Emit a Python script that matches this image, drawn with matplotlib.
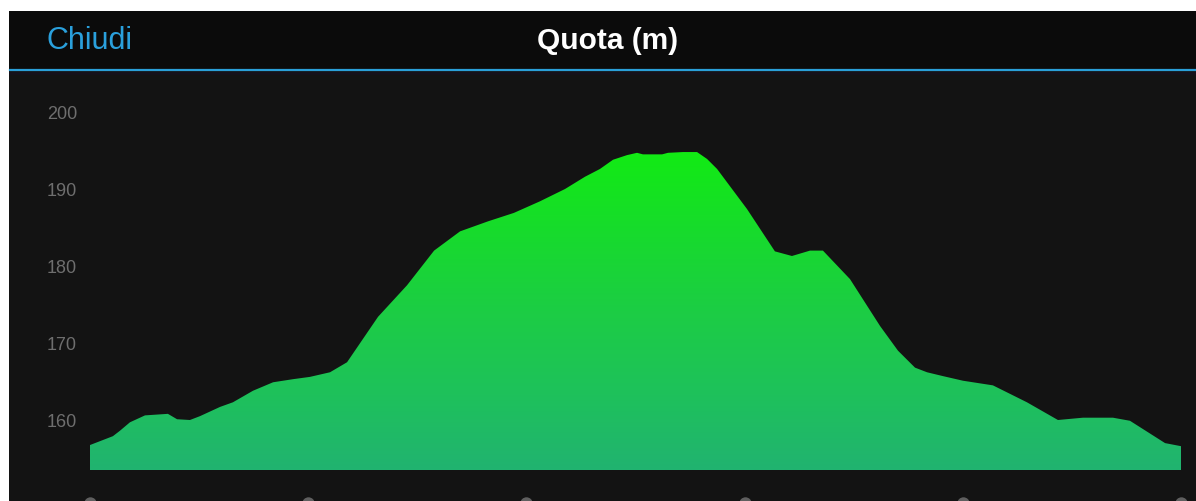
import numpy as np
import matplotlib

matplotlib.use("Agg")
import matplotlib.pyplot as plt  # noqa: E402
from matplotlib.colors import LinearSegmentedColormap  # noqa: E402
from matplotlib.patches import Polygon  # noqa: E402

# elevation profile (distance in tick units, altitude m)
distance = [
    0.000, 0.105, 0.137, 0.183, 0.252, 0.357, 0.399, 0.458, 0.504, 0.596,
    0.655, 0.747, 0.839, 0.930, 1.008, 1.100, 1.178, 1.320, 1.453, 1.577,
    1.696, 1.824, 1.943, 2.062, 2.177, 2.269, 2.337, 2.397, 2.461, 2.507,
    2.534, 2.622, 2.649, 2.718, 2.782, 2.828, 2.874, 3.011, 3.139, 3.217,
    3.300, 3.359, 3.483, 3.621, 3.703, 3.781, 3.836, 3.909, 4.001, 4.138,
    4.294, 4.436, 4.551, 4.688, 4.766, 4.927, 5.000,
]
altitude = [
    156.75, 157.9, 158.6, 159.7, 160.6, 160.8, 160.1, 160.0, 160.5, 161.7,
    162.3, 163.8, 164.9, 165.3, 165.6, 166.2, 167.5, 173.4, 177.5, 182.0,
    184.5, 185.8, 186.9, 188.4, 190.0, 191.6, 192.6, 193.8, 194.4, 194.7,
    194.5, 194.5, 194.7, 194.8, 194.8, 193.9, 192.6, 187.4, 181.9, 181.3,
    182.0, 182.0, 178.3, 172.2, 169.0, 166.8, 166.2, 165.7, 165.1, 164.5,
    162.3, 160.0, 160.3, 160.3, 159.9, 157.0, 156.6,
]
base_alt = 153.5
y_ticks = [160, 170, 180, 190, 200]
x_ticks = [0, 1, 2, 3, 4, 5]

title = "Quota (m)"
close_label = "Chiudi"

W, H = 1196, 502
fig = plt.figure(figsize=(W / 100, H / 100), dpi=100, facecolor="white")

# dark app background (white margin top/left like the screenshot)
bg = fig.add_axes([9 / W, 0, 1 - 9 / W, 1 - 12 / H])
bg.set_axis_off()
bg.set_xlim(0, 1)
bg.set_ylim(0, 1)
bg.add_patch(plt.Rectangle((0, 0), 1, 1, color="#131313", transform=bg.transAxes))
hdr_h = (70 - 12) / (H - 12)
bg.add_patch(plt.Rectangle((0, 1 - hdr_h), 1, hdr_h, color="#0b0b0b", transform=bg.transAxes))

# header texts and blue separator
fig.text(46 / W, 1 - 41 / H, close_label, color="#2aa0dc", fontsize=22,
         family="Liberation Sans", ha="left", va="center")
fig.text(608 / W, 1 - 41 / H, title, color="white", fontsize=21.5, fontweight="bold",
         family="Liberation Sans", ha="center", va="center")
fig.add_artist(plt.Line2D([9.5 / W, 1], [1 - 70.5 / H, 1 - 70.5 / H], color="#2a9fd8", lw=1.6))
fig.add_artist(plt.Line2D([9.5 / W, 1], [1 - 74 / H, 1 - 74 / H], color="#15111b", lw=2.0))

# plot axes: px 90 -> 0, px 1181 -> 5 ; 160 m at y=421 px, 7.7 px per m
px_per_x = (1181 - 90) / 5
px_per_m = 7.7
ax_top = 76
ax = fig.add_axes([9 / W, 0, 1 - 9 / W, 1 - ax_top / H])
ax.set_facecolor("none")
ax.set_xlim((9 - 90) / px_per_x, (W - 90) / px_per_x)
ax.set_ylim(160 - (H - 421) / px_per_m, 160 + (421 - ax_top) / px_per_m)
ax.set_axis_off()

# gradient fill under the profile
cmap = LinearSegmentedColormap.from_list(
    "quota", ["#21b370", "#1ec25a", "#1ccd44", "#17db2c", "#12eb14"], N=256)
grad = np.linspace(0, 1, 256).reshape(-1, 1)
top_alt = max(altitude)
img = ax.imshow(grad, cmap=cmap, origin="lower", aspect="auto",
                extent=[distance[0], distance[-1], base_alt, top_alt], zorder=2)
verts = [(distance[0], base_alt)] + list(zip(distance, altitude)) + [(distance[-1], base_alt)]
clip = Polygon(verts, closed=True, facecolor="none", edgecolor="none", transform=ax.transData)
ax.add_patch(clip)
img.set_clip_path(clip)

# y tick labels
for v in y_ticks:
    ax.text((62 - 90) / px_per_x, v - 2 / px_per_m, str(v), color="#6e6e6e", fontsize=13,
            family="Liberation Sans", ha="center", va="center")

# x tick markers, cut by the bottom edge
ax.scatter(x_ticks, [160 - (504 - 421) / px_per_m] * len(x_ticks), s=80,
           color="#5f5f5f", clip_on=False, zorder=3, linewidths=0)

fig.savefig("out.png", dpi=100, facecolor="white")
